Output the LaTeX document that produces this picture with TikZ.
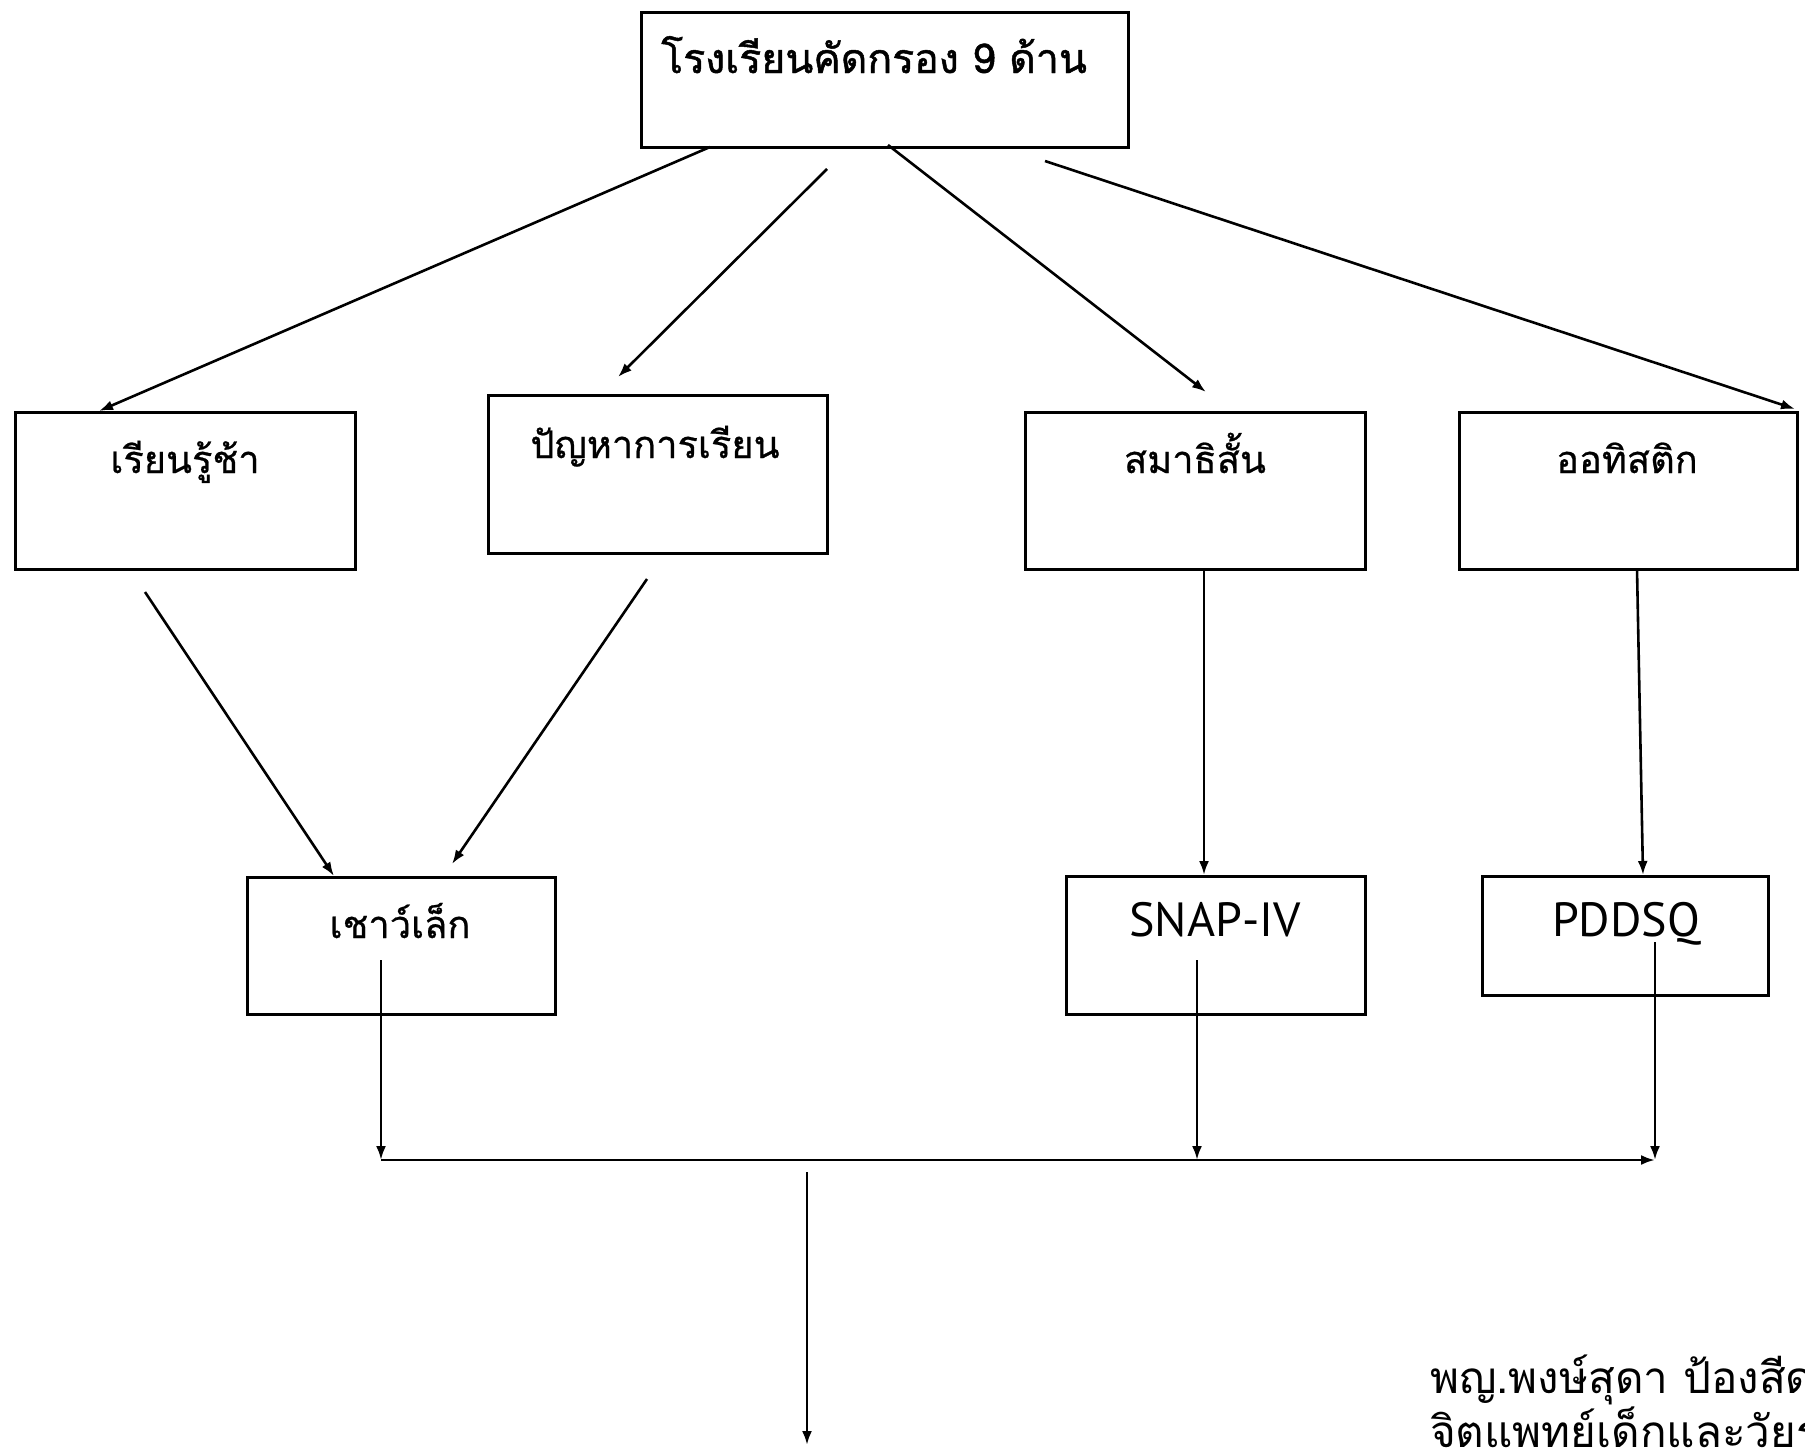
\documentclass[tikz,border=0pt]{standalone}
\usepackage{fontspec}
\newfontfamily\thaifont[Script=Thai]{Loma}
\newfontfamily\thaifontb[Script=Thai,FakeBold=1.2]{Loma}
\newfontfamily\thaifontm[Script=Thai,FakeBold=0.6]{Loma}
\newfontfamily\latfont{PT Sans}
\usetikzlibrary{arrows.meta,calc}
\tikzset{
  box/.style={draw, line width=3pt, rectangle, inner sep=0pt, outer sep=0pt},
  thlbl/.style={anchor=base, inner sep=0pt, font=\thaifontm\fontsize{38}{44}\selectfont},
  ltlbl/.style={anchor=base, inner sep=0pt, font=\latfont\fontsize{48}{54}\selectfont},
  arr/.style={line width=2.6pt, -{Latex[length=14pt,width=10pt]}},
  authlbl/.style={anchor=base west, inner sep=0pt, font=\thaifont\fontsize{44}{52}\selectfont}
}
\begin{document}
\begin{tikzpicture}[x=1pt,y=-1pt]
\useasboundingbox (0,0) rectangle (1805,1456);
% boxes
\node[box, minimum width=487pt, minimum height=135pt] (top) at (884.5,79.5) {};
\node[box, minimum width=340pt, minimum height=157pt] (b1) at (185,490.5) {};
\node[box, minimum width=339pt, minimum height=158pt] (b2) at (657.5,474) {};
\node[box, minimum width=340pt, minimum height=157pt] (b3) at (1195,490.5) {};
\node[box, minimum width=338pt, minimum height=157pt] (b4) at (1628,490.5) {};
\node[box, minimum width=308pt, minimum height=137pt] (c1) at (401,945.5) {};
\node[box, minimum width=299pt, minimum height=138pt] (c2) at (1215.5,945) {};
\node[box, minimum width=286pt, minimum height=119pt] (c3) at (1625,935.5) {};
% labels
\node[anchor=base west, inner sep=0pt, font=\thaifontb\fontsize{41}{48}\selectfont] (ttop) at (661,73) {โรงเรียนคัดกรอง 9 ด้าน};
\node[thlbl] (tb1) at (185,473) {เรียนรู้ช้า};
\node[thlbl] (tb2) at (655,458) {ปัญหาการเรียน};
\node[thlbl] (tb3) at (1195,473) {สมาธิสั้น};
\node[thlbl] (tb4) at (1627,473) {ออทิสติก};
\node[thlbl] (tc1) at (400,938) {เชาว์เล็ก};
\node[ltlbl] (tc2) at (1215,936) {SNAP-IV};
\node[ltlbl] (tc3) at (1626,936) {PDDSQ};
\node[authlbl] (auth1) at (1430,1393) {พญ.พงษ์สุดา ป้องสีดา};
\node[authlbl] (auth2) at (1430,1447) {จิตแพทย์เด็กและวัยรุ่น};
% coordinates
\coordinate (a2s) at ($(top.south)+(-57.5,22)$);
\coordinate (a2e) at ($(b2.north)+(-39.5,-18)$);
\coordinate (a3e) at ($(b3.north)+(11,-20)$);
\coordinate (a4s) at ($(top.south)+(160.5,14)$);
\coordinate (a5s) at ($(b1.south)+(-40,23)$);
\coordinate (a6s) at ($(b2.south)+(-10.5,26)$);
\coordinate (a6e) at ($(c1.north)+(51,-13)$);
\coordinate (c1s) at ($(c1.south)+(-20,-54)$);
\coordinate (c2s) at ($(c2.south)+(-18.5,-54)$);
\coordinate (c3s) at ($(c3.south)+(30,-53)$);
\coordinate (busL) at ($(c1.south)+(-20,146)$);
\coordinate (busM) at ($(c2.south)+(-18.5,146)$);
\coordinate (busR) at ($(c3.south)+(30,165)$);
\coordinate (outS) at ($(busL)+(426,12)$);
\coordinate (outE) at ($(busL)+(426,285)$);
% connectors
\draw[arr] ($(top.south)+(-174.5,0)$) -- ($(b1.north)+(-86,-1)$);
\draw[arr] (a2s) -- (a2e);
\draw[arr] ($(top.south)+(3.5,-2)$) -- (a3e);
\draw[arr] (a4s) -- ($(b4.north east)+(-2,-3)$);
\draw[arr] (a5s) -- ($(c1.north)+(-67,-1)$);
\draw[arr] (a6s) -- (a6e);
\draw[arr] ($(b3.south)+(9,0)$) -- ($(c2.north)+(-11.5,-1)$);
\draw[arr] ($(b4.south)+(9,0)$) -- ($(c3.north)+(18,-1)$);
\draw[arr] (c1s) -- (busL);
\draw[arr] (c2s) -- (busM);
\draw[arr] (c3s) -- (busR);
\draw[arr] (busL) -- (busR);
\draw[arr] (outS) -- (outE);
\end{tikzpicture}
\end{document}
